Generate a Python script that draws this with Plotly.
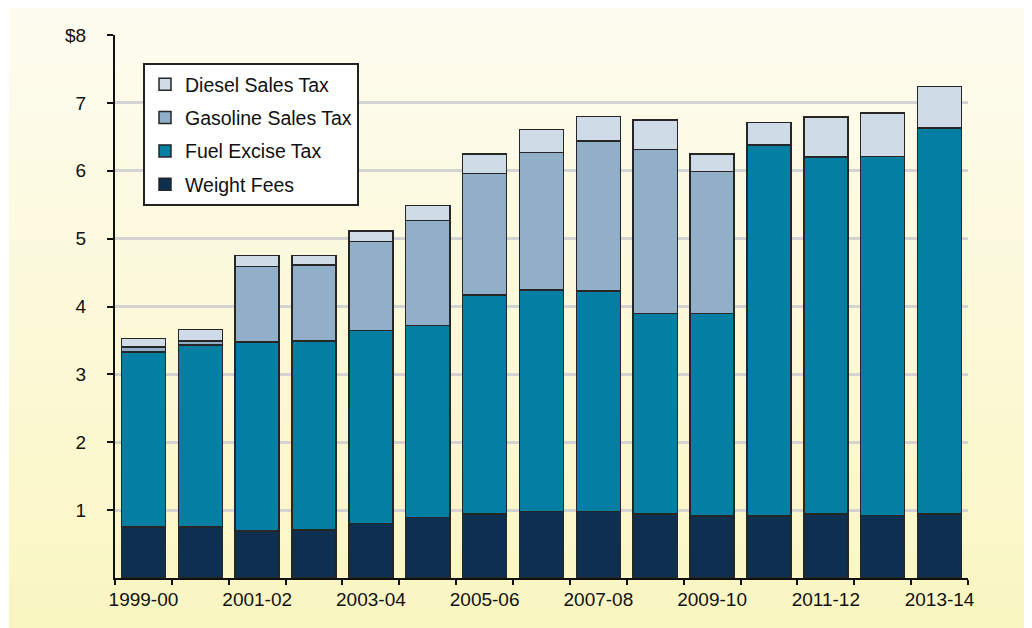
import plotly.graph_objects as go

categories = ["1999-00", "2000-01", "2001-02", "2002-03", "2003-04", "2004-05",
              "2005-06", "2006-07", "2007-08", "2008-09", "2009-10", "2010-11",
              "2011-12", "2012-13", "2013-14"]
weight_fees = [0.75, 0.75, 0.69, 0.71, 0.80, 0.89, 0.94, 0.98, 0.98, 0.94, 0.91, 0.91, 0.94, 0.92, 0.94]
fuel_excise = [2.58, 2.68, 2.79, 2.78, 2.85, 2.83, 3.23, 3.26, 3.25, 2.96, 2.99, 5.47, 5.26, 5.29, 5.69]
gasoline_sales = [0.07, 0.06, 1.11, 1.12, 1.31, 1.55, 1.79, 2.03, 2.21, 2.41, 2.09, 0.0, 0.0, 0.0, 0.0]
diesel_sales = [0.13, 0.17, 0.16, 0.14, 0.15, 0.22, 0.29, 0.34, 0.36, 0.44, 0.26, 0.33, 0.59, 0.64, 0.61]
x_labels = [c if i % 2 == 0 else "" for i, c in enumerate(categories)]
y_tickvals = [1, 2, 3, 4, 5, 6, 7, 8]
y_ticktext = ["1", "2", "3", "4", "5", "6", "7", "$8"]

series = [
    ("Weight Fees", weight_fees, "#0e3050", 4),
    ("Fuel Excise Tax", fuel_excise, "#047ea2", 3),
    ("Gasoline Sales Tax", gasoline_sales, "#91afc9", 2),
    ("Diesel Sales Tax", diesel_sales, "#cfdbe6", 1),
]

fig = go.Figure()
for name, vals, col, rank in series:
    fig.add_trace(go.Bar(
        x=categories, y=vals, name=name, legendgroup=name, legendrank=rank,
        marker=dict(color=col, line=dict(color="#262626", width=1.5)),
    ))

# page has an 8px body margin, so the figure is 8px smaller each way
OFF = 8
W, H = 1024, 620
L, R, T, B = 107, 64, 27, 50
pw, ph = W - L - R, H - T - B

def px_x(p):
    return (p - OFF - L) / pw

def px_y(p):
    return (H - B - (p - OFF)) / ph

shapes = []
n = 40
top = (254, 252, 240)
bot = (250, 246, 194)
for i in range(n):
    f = i / (n - 1)
    c = tuple(round(top[k] + (bot[k] - top[k]) * f) for k in range(3))
    y0 = OFF + H * i / n - 1
    y1 = OFF + H * (i + 1) / n + 1
    shapes.append(dict(type="rect", xref="paper", yref="paper",
                       x0=px_x(9), x1=px_x(1040), y0=px_y(y1), y1=px_y(y0),
                       fillcolor="rgb(%d,%d,%d)" % c, line=dict(width=0), layer="below"))

fig.update_layout(
    width=W, height=H,
    margin=dict(l=L, r=R, t=T, b=B, autoexpand=False),
    barmode="stack", bargap=0.225,
    paper_bgcolor="white", plot_bgcolor="rgba(0,0,0,0)",
    font=dict(family="Liberation Sans, Arial, sans-serif", size=19, color="#111"),
    shapes=shapes,
    showlegend=True,
    legend=dict(
        x=px_x(143), y=px_y(63), xanchor="left", yanchor="top",
        bgcolor="white", bordercolor="#222", borderwidth=2,
        traceorder="grouped", tracegroupgap=5,
        font=dict(size=19.5, color="#111"),
    ),
    xaxis=dict(
        type="category", tickmode="array", tickvals=categories, ticktext=x_labels,
        tickson="boundaries", ticks="outside", ticklen=5, tickwidth=2, tickcolor="#111",
        tickangle=0, automargin=False, ticklabelstandoff=3,
        showline=True, linecolor="#111", linewidth=2, showgrid=False,
        range=[-0.5, len(categories) - 0.5],
    ),
    yaxis=dict(
        range=[0, 8], tickmode="array", tickvals=y_tickvals, ticktext=y_ticktext,
        ticks="outside", ticklen=6, tickwidth=2, tickcolor="#111", automargin=False,
        showline=True, linecolor="#111", linewidth=2,
        showgrid=True, gridcolor="#d3d3d3", gridwidth=3, zeroline=False,
        ticklabelstandoff=17,
    ),
)

fig.write_html("out.html")
